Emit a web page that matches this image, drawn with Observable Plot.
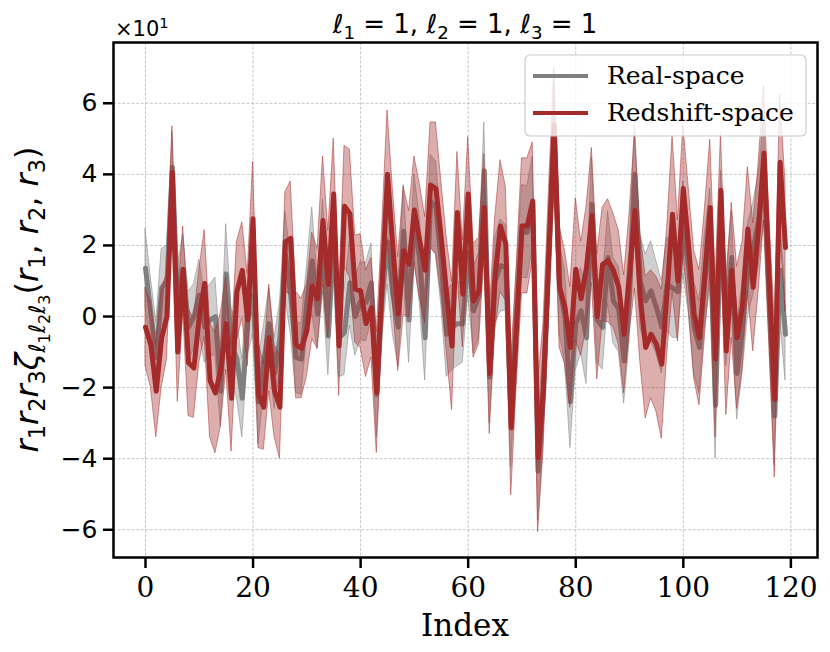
<!DOCTYPE html>
<html>
<head>
<meta charset="utf-8">
<script src="https://cdn.jsdelivr.net/npm/d3@7"></script>
<script src="https://cdn.jsdelivr.net/npm/@observablehq/plot@0.6"></script>
<style>
  html, body { margin: 0; padding: 0; background: #fff; }
  #chart { width: 830px; height: 652px; }
</style>
</head>
<body>
<div id="chart"></div>
<script>
// ---- data (values in units of ×10^1) ----
const redshiftSpace = [
  -0.3, -0.8, -2.1, -0.6, 0.0, 4.05, -1.0, 1.33, -1.3, -1.45,
  0.0, 0.93, -1.8, -2.15, -1.5, -0.2, -2.3, 0.7, 1.3, -0.1,
  2.75, -2.2, -2.55, -0.6, -2.1, -2.55, 2.1, 2.2, -0.8, -0.9,
  -0.4, 0.86, 0.5, 2.7, 0.9, 3.45, -0.83, 3.1, 2.9, 0.77,
  0.72, -0.2, 0.25, -2.14, 1.0, 4.0, 1.95, 0.07, 1.85, 1.47,
  3.0, 2.13, 1.3, 3.7, 3.6, 2.2, 0.63, -0.83, 2.93, 0.63,
  3.45, 0.44, 0.72, 3.07, -1.6, 1.15, 2.55, 2.04, -3.13, -0.3,
  2.55, 2.55, 3.25, -3.97, -2.0, 1.8, 5.4, 0.82, 0.25, -0.87,
  1.33, 0.5, 1.38, 2.84, 0.0, 1.47, 1.57, 1.3, 0.82, -0.5,
  1.2, 2.98, 0.53, -0.87, -0.5, -0.78, -1.34, 0.72, 2.88, 1.0,
  3.6, 1.94, 0.07, -0.6, 1.2, 3.07, -1.2, 3.55, -0.97, 1.3,
  -0.6, 0.3, 2.46, 0.82, 2.5, 4.6, 1.0, -2.33, 4.34, 1.94
];
const realSpace = [
  1.36, 0.1, -1.15, 0.8, 1.0, 4.2, 0.3, 1.3, -0.3, 0.0,
  0.6, -0.3, -0.1, 0.0, -2.1, 1.2, -0.8, -1.2, -2.3, -0.1,
  0.6, -2.4, -1.25, -0.2, -1.6, -0.6, 1.75, 0.6, -1.15, -1.2,
  0.4, 1.57, 0.07, 2.0, -0.55, 2.3, -0.6, -0.45, 0.95, 0.0,
  0.44, 0.4, 0.95, -2.2, 0.5, 2.1, 0.6, -0.3, 2.4, -0.1,
  2.8, 1.57, -0.6, 3.25, 3.07, 1.5, -0.5, -0.3, -0.2, -0.2,
  1.8, 0.16, 0.6, 4.1, -1.7, 1.0, 1.43, 1.38, -2.94, 0.0,
  2.4, 2.37, 3.2, -4.35, -2.2, 1.5, 5.2, 0.82, 0.0, -2.4,
  -0.2, 0.16, -0.6, 3.16, -0.1, -0.3, 1.66, 0.44, 0.2, -1.25,
  0.6, 4.0, 1.0, 0.44, 0.72, 0.25, -0.3, 0.9, 0.8, 0.7,
  2.5, 1.4, -0.3, -0.87, 1.0, 2.2, -2.5, 2.8, -0.1, 1.66,
  -1.6, -0.3, 1.3, 1.9, 2.7, 4.1, 0.5, -2.8, 1.3, -0.5
];
const redshiftErr = [
  1.1, 1.2, 1.3, 1.4, 1.2, 1.3, 1.4, 1.2, 1.5, 1.4,
  1.3, 1.5, 1.6, 1.7, 1.6, 1.3, 1.5, 1.4, 1.35, 1.3,
  1.6, 1.5, 1.2, 1.5, 1.3, 1.45, 1.4, 1.6, 1.5, 1.4,
  1.3, 1.5, 1.4, 1.8, 1.5, 1.55, 1.4, 1.7, 1.8, 1.5,
  1.6, 1.5, 1.4, 1.7, 1.5, 1.8, 1.6, 1.6, 1.8, 1.5,
  1.5, 1.6, 1.5, 1.76, 1.86, 1.6, 1.6, 1.8, 1.7, 1.5,
  1.6, 1.6, 1.5, 1.5, 1.7, 1.6, 1.85, 1.6, 1.9, 1.7,
  1.9, 1.9, 1.65, 2.1, 1.8, 1.7, 1.6, 1.7, 1.6, 1.7,
  2.0, 1.6, 1.7, 1.9, 1.77, 1.6, 1.73, 1.6, 1.6, 1.66,
  1.7, 2.2, 1.8, 2.0, 1.8, 1.9, 2.1, 1.8, 2.2, 1.7,
  1.8, 1.7, 1.8, 1.9, 1.8, 1.9, 2.2, 1.6, 1.8, 1.9,
  2.0, 1.8, 1.74, 1.8, 1.8, 1.9, 1.8, 2.2, 1.9, 1.8
];
const realErr = [
  1.1, 1.0, 1.0, 1.1, 1.0, 1.0, 1.1, 1.0, 1.0, 0.9,
  1.0, 1.0, 1.0, 1.1, 1.0, 1.4, 1.0, 1.1, 1.1, 1.0,
  1.1, 1.2, 1.0, 1.0, 1.0, 1.0, 1.2, 1.1, 1.0, 1.0,
  1.0, 1.5, 1.0, 1.3, 1.1, 1.2, 1.1, 1.2, 1.2, 1.1,
  1.1, 1.1, 1.1, 1.2, 1.1, 1.2, 1.1, 1.1, 1.3, 1.2,
  1.2, 1.2, 1.2, 1.3, 1.3, 1.2, 1.2, 1.2, 1.2, 1.1,
  1.2, 1.2, 1.2, 1.36, 1.3, 1.2, 1.3, 1.2, 1.3, 1.2,
  1.3, 1.3, 1.3, 1.4, 1.3, 1.3, 1.3, 1.3, 1.3, 1.3,
  1.3, 1.2, 1.3, 1.3, 1.2, 1.2, 1.3, 1.2, 1.2, 1.2,
  1.3, 1.5, 1.3, 1.3, 1.4, 1.3, 1.3, 1.3, 1.4, 1.3,
  1.3, 1.3, 1.3, 1.3, 1.3, 1.4, 1.5, 1.3, 1.3, 1.3,
  1.3, 1.3, 1.3, 1.3, 1.3, 1.4, 1.3, 1.4, 1.4, 1.3
];
const xTicks = [0, 20, 40, 60, 80, 100, 120];
const yTicks = [-6, -4, -2, 0, 2, 4, 6];
const seriesNames = ["Real-space", "Redshift-space"];
const seriesColors = ["#808080", "#a52a2a"];

const rows = realSpace.map((v, i) => ({
  i, real: v, rs: redshiftSpace[i], realErr: realErr[i], rsErr: redshiftErr[i]
}));

const W = 830, H = 652;
const mL = 113, mR = 13, mT = 42, mB = 95;

const plot = Plot.plot({
  width: W, height: H,
  marginLeft: mL, marginRight: mR, marginTop: mT, marginBottom: mB,
  style: { background: "white", color: "black", overflow: "visible" },
  x: { domain: [-5.95, 124.95] },
  y: { domain: [-6.78, 7.71] },
  marks: [
    Plot.gridX(xTicks, { stroke: "#b0b0b0", strokeOpacity: 0.9, strokeWidth: 0.8, strokeDasharray: "3,1.6" }),
    Plot.gridY(yTicks, { stroke: "#b0b0b0", strokeOpacity: 0.9, strokeWidth: 0.8, strokeDasharray: "3,1.6" }),
    Plot.areaY(rows, { x: "i", y1: d => d.real - d.realErr, y2: d => d.real + d.realErr,
      fill: seriesColors[0], fillOpacity: 0.38, stroke: seriesColors[0], strokeOpacity: 0.5, strokeWidth: 1 }),
    Plot.lineY(rows, { x: "i", y: "real", stroke: seriesColors[0], strokeWidth: 5 }),
    Plot.areaY(rows, { x: "i", y1: d => d.rs - d.rsErr, y2: d => d.rs + d.rsErr,
      fill: seriesColors[1], fillOpacity: 0.38, stroke: seriesColors[1], strokeOpacity: 0.5, strokeWidth: 1 }),
    Plot.lineY(rows, { x: "i", y: "rs", stroke: seriesColors[1], strokeWidth: 5 }),
    Plot.frame({ stroke: "black", strokeWidth: 2.5 }),
    Plot.axisX(xTicks, { tickSize: 11, tickPadding: 9, strokeWidth: 2.5, fontSize: 28,
      fontFamily: "DejaVu Serif", label: null, tickFormat: d => String(d) }),
    Plot.axisY(yTicks, { tickSize: 10, tickPadding: 6, strokeWidth: 2.5, fontSize: 25,
      fontFamily: "DejaVu Sans", label: null, tickFormat: d => d < 0 ? "\u2212" + Math.abs(d) : String(d) })
  ]
});

document.getElementById("chart").appendChild(plot);
const svg = d3.select(plot);

// rich text helper: segments {t, it, lvl, sup}
function rich(g, segs, base, family) {
  const text = g.append("text").attr("font-family", family).attr("fill", "black");
  const scale = [1, 0.7, 0.5];
  const shift = [0, 0.22, 0.36];
  let cur = 0;
  segs.forEach(s => {
    const lvl = s.lvl || 0;
    const target = s.sup ? -0.4 * base : shift[lvl] * base;
    text.append("tspan")
      .attr("font-size", base * scale[lvl])
      .attr("font-style", s.it ? "italic" : "normal")
      .attr("dy", (target - cur).toFixed(2))
      .text(s.t);
    cur = target;
  });
  return text;
}

// title
const titleSegs = [];
[1, 2, 3].forEach((k, j) => {
  titleSegs.push({ t: "\u2113", it: true }, { t: String(k), lvl: 1 }, { t: " = 1" + (j < 2 ? ", " : "") });
});
rich(svg.append("g"), titleSegs, 26, "DejaVu Sans")
  .attr("x", (mL + (W - mR)) / 2).attr("y", 33).attr("text-anchor", "middle")
  .attr("xml:space", "preserve");

// ×10^1 offset label
rich(svg.append("g"), [{ t: "\u00d710" }, { t: "1", lvl: 1, sup: true }], 21, "DejaVu Sans")
  .attr("x", mL + 2).attr("y", 36).attr("text-anchor", "start");

// y label
const ySegs = [
  { t: "r", it: true }, { t: "1", lvl: 1 }, { t: "r", it: true }, { t: "2", lvl: 1 },
  { t: "r", it: true }, { t: "3", lvl: 1 }, { t: "\u03b6", it: true },
  { t: "\u2113", it: true, lvl: 1 }, { t: "1", lvl: 2 }, { t: "\u2113", it: true, lvl: 1 }, { t: "2", lvl: 2 },
  { t: "\u2113", it: true, lvl: 1 }, { t: "3", lvl: 2 },
  { t: "(" }, { t: "r", it: true }, { t: "1", lvl: 1 }, { t: ", " }, { t: "r", it: true }, { t: "2", lvl: 1 },
  { t: ", " }, { t: "r", it: true }, { t: "3", lvl: 1 }, { t: ")" }
];
rich(svg.append("g").attr("transform", `translate(38, ${(mT + H - mB) / 2}) rotate(-90)`), ySegs, 32, "DejaVu Sans")
  .attr("x", 0).attr("y", 0).attr("text-anchor", "middle").attr("xml:space", "preserve");

// x label
svg.append("text").attr("x", (mL + W - mR) / 2).attr("y", 636).attr("text-anchor", "middle")
  .attr("font-family", "DejaVu Serif").attr("font-size", 31).attr("fill", "black").text("Index");

// legend
const lg = svg.append("g");
lg.append("rect").attr("x", 525).attr("y", 55).attr("width", 281).attr("height", 81).attr("rx", 5)
  .attr("fill", "white").attr("fill-opacity", 0.8).attr("stroke", "#cccccc").attr("stroke-width", 1.2);
seriesNames.forEach((name, k) => {
  const yy = 76 + k * 37;
  lg.append("line").attr("x1", 533).attr("x2", 588).attr("y1", yy).attr("y2", yy)
    .attr("stroke", seriesColors[k]).attr("stroke-width", 4);
  lg.append("text").attr("x", 607).attr("y", yy + 8).attr("text-anchor", "start")
    .attr("font-family", "DejaVu Serif").attr("font-size", 25).attr("fill", "black").text(name);
});
</script>
</body>
</html>
